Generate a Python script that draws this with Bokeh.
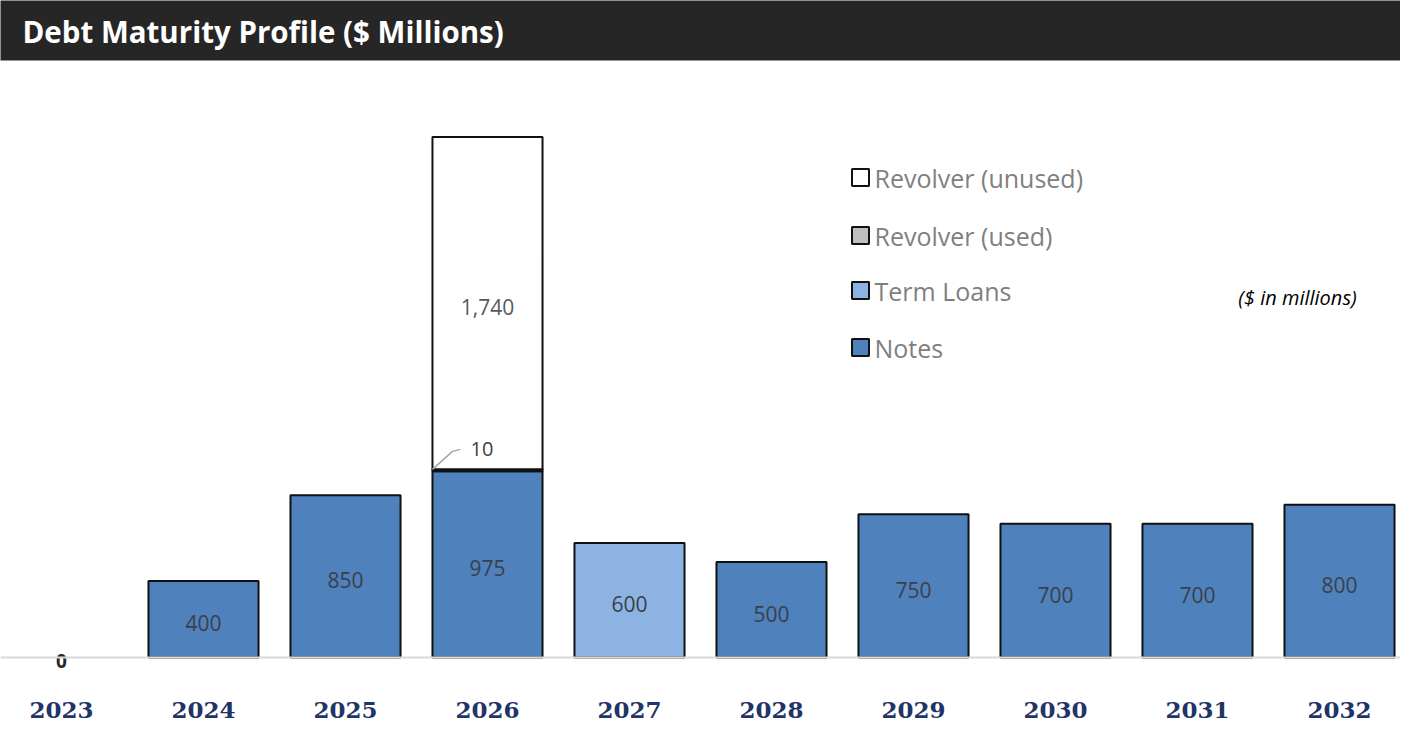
import numpy as np
from bokeh.plotting import figure
from bokeh.models import ColumnDataSource, Range1d, Span
from bokeh.core.properties import value
from bokeh.embed import file_html
from bokeh.resources import INLINE

# ---- data ----
years = ["2023", "2024", "2025", "2026", "2027", "2028", "2029", "2030", "2031", "2032"]
notes = [0, 400, 850, 975, 0, 500, 750, 700, 700, 800]
term_loans = [0, 0, 0, 0, 600, 0, 0, 0, 0, 0]
revolver_used = [0, 0, 0, 10, 0, 0, 0, 0, 0, 0]
revolver_unused = [0, 0, 0, 1740, 0, 0, 0, 0, 0, 0]
series_names = ["Notes", "Term Loans", "Revolver (used)", "Revolver (unused)"]
series_colors = ["#4f81bd", "#8db3e2", "#bfbfbf", "#ffffff"]
title_text = "Debt Maturity Profile ($ Millions)"
unit_note = "($ in millions)"

# ---- geometry ----
FIG_W, FIG_H = 1400, 725
PX_PER_X = 142.0
X0 = -61 / PX_PER_X
X1 = X0 + FIG_W / PX_PER_X
PPU = 0.191          # pixels per $M
BASE = 657           # baseline pixel within figure
Y1 = BASE / PPU
Y0 = -(FIG_H - BASE) / PPU


def dx(px):  # picture x pixel -> data x
    return (px - 61) / PX_PER_X


def dy(py):  # picture y pixel -> data y
    return (BASE - py) / PPU


p = figure(width=FIG_W, height=FIG_H, output_backend="svg", toolbar_location=None,
           x_range=Range1d(X0, X1), y_range=Range1d(Y0, Y1), min_border=0,
           outline_line_color=None)
p.axis.visible = False
p.grid.visible = False
p.background_fill_color = "white"
p.border_fill_color = "white"

# title bar
p.quad(left=[X0 - 1], right=[X1 + 1], bottom=[dy(60)], top=[Y1 + 50],
       fill_color="#262626", line_color=None)
p.text(x=[dx(22)], y=[dy(31)], text=[title_text], text_color="white",
       text_font=value("Open Sans"), text_font_style="bold", text_font_size="29.5px",
       text_baseline="middle", text_align="left")

# baseline
p.add_layout(Span(location=0, dimension="width", line_color="#d9d9d9", line_width=2))

# stacked bars
x = np.arange(len(years))
stack = [np.array(notes, float), np.array(term_loans, float),
         np.array(revolver_used, float), np.array(revolver_unused, float)]
bottom = np.zeros(len(years))
BW = 0.775
segments = []
for vals, name, col in zip(stack, series_names, series_colors):
    top = bottom + vals
    m = vals > 0
    src = ColumnDataSource(dict(x=x[m], bottom=bottom[m], top=top[m], v=vals[m]))
    p.vbar(x="x", bottom="bottom", top="top", width=BW, source=src,
           fill_color=col, line_color="#111111", line_width=2)
    segments.append((name, x[m], bottom[m], top[m], vals[m]))
    bottom = top

# labels inside bars
for name, xs, bs, ts, vs in segments:
    if name == "Revolver (used)":
        for xi, ti, vi in zip(xs, ts, vs):
            lx = xi - BW / 2
            p.line(x=[lx, lx + 20 / PX_PER_X, lx + 28 / PX_PER_X],
                   y=[ti, ti + 18 / PPU, ti + 20 / PPU], line_color="#a6a6a6", line_width=1.5)
            p.text(x=[lx + 38 / PX_PER_X], y=[ti + 20 / PPU], text=[f"{int(vi):,}"],
                   text_color="#404040", text_font=value("Open Sans"), text_font_size="20px",
                   text_baseline="middle", text_align="left")
        continue
    col = "#595959" if name == "Revolver (unused)" else "#3a3f4a"
    p.text(x=xs, y=(bs + ts) / 2, text=[f"{int(v):,}" for v in vs], text_color=col,
           text_font=value("Open Sans"), text_font_size="21px", text_baseline="middle",
           text_align="center", y_offset=4)

# zero label
total = sum(stack)
zm = total == 0
p.text(x=x[zm], y=np.zeros(zm.sum()), text=["0"] * int(zm.sum()), text_color="#262626",
       text_font=value("Open Sans"), text_font_style="bold", text_font_size="19px",
       text_baseline="middle", text_align="center", y_offset=3)

# year labels
p.text(x=x, y=[dy(709)] * len(years), text=years, text_color="#1f3468",
       text_font=value("DejaVu Serif"), text_font_style="bold", text_font_size="23px",
       text_baseline="middle", text_align="center")

# legend (manual)
leg_rows = [177, 235, 290, 347]
leg_order = [3, 2, 1, 0]
for row, idx in zip(leg_rows, leg_order):
    p.scatter(x=[dx(860)], y=[dy(row)], marker="square", size=17,
              fill_color=series_colors[idx], line_color="#111111", line_width=2)
    p.text(x=[dx(874)], y=[dy(row)], text=[series_names[idx]], text_color="#7f7f7f",
           text_font=value("Open Sans"), text_font_size="25px",
           text_baseline="middle", text_align="left")

p.text(x=[dx(1297)], y=[dy(297)], text=[unit_note], text_color="#000000",
       text_font=value("Open Sans"), text_font_style="italic", text_font_size="20px",
       text_baseline="middle", text_align="center")

open("out.html", "w").write(file_html(p, INLINE))
